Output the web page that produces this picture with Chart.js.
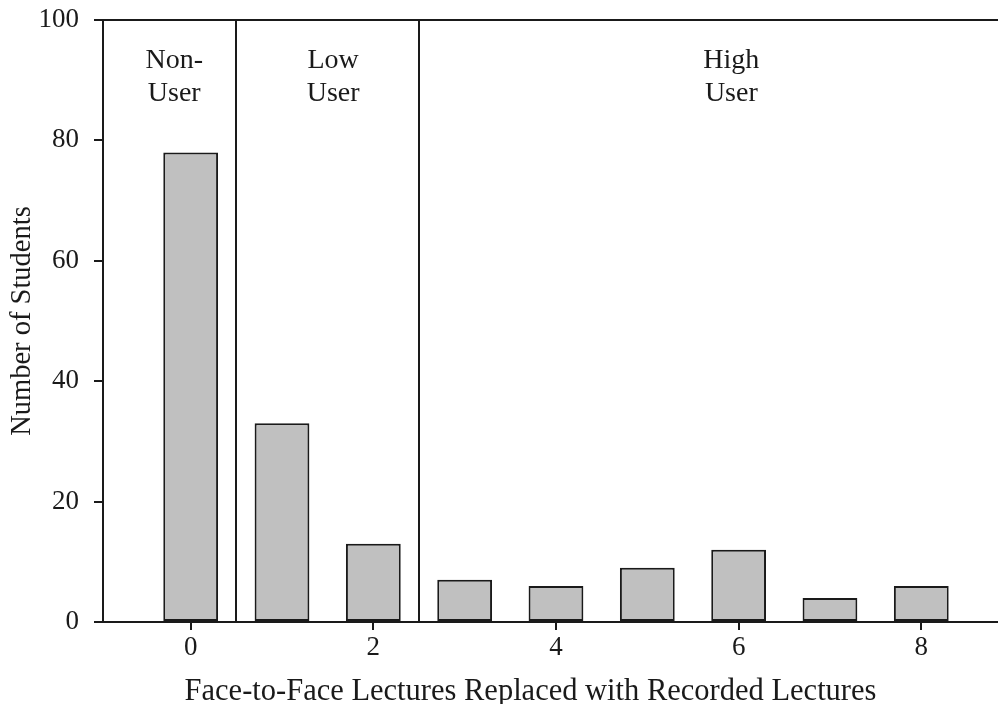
<!DOCTYPE html>
<html>
<head>
<meta charset="utf-8">
<script src="https://cdn.jsdelivr.net/npm/chart.js@4"></script>
<style>
  html, body { margin: 0; padding: 0; background: #fff; overflow: hidden; }
  #wrap { width: 998px; height: 704px; }
</style>
</head>
<body>
<div id="wrap"><canvas id="c" width="998" height="704"></canvas></div>
<script>
// ---- data ----
const lecturesReplaced = [0, 1, 2, 3, 4, 5, 6, 7, 8];
const numberOfStudents = [78, 33, 13, 7, 6, 9, 12, 4, 6];
const xTickValues = [0, 2, 4, 6, 8];
const yTickValues = [0, 20, 40, 60, 80, 100];
const groupNames = [['Non-', 'User'], ['Low', 'User'], ['High', 'User']];
const groupCenters = [-0.18, 1.56, 5.92];
const groupDividers = [0.5, 2.5];
const xTitle = 'Face-to-Face Lectures Replaced with Recorded Lectures';
const yTitle = 'Number of Students';

const X_MIN = -0.96, X_MAX = 8.84;
const FONT = "'Liberation Serif', 'Times New Roman', serif";
const INK = '#1a1a1a';

const overlay = {
  id: 'overlay',
  afterDatasetsDraw(chart) {
    const { ctx, chartArea } = chart;
    const xs = chart.scales.x;
    ctx.save();
    // group dividers
    ctx.strokeStyle = INK;
    ctx.lineWidth = 2;
    groupDividers.forEach(v => {
      const px = Math.round(xs.getPixelForValue(v));
      ctx.beginPath();
      ctx.moveTo(px, chartArea.top);
      ctx.lineTo(px, chartArea.bottom);
      ctx.stroke();
    });
    // group labels
    ctx.fillStyle = INK;
    ctx.font = '28px ' + FONT;
    ctx.textAlign = 'center';
    ctx.textBaseline = 'alphabetic';
    groupNames.forEach((lines, i) => {
      const px = xs.getPixelForValue(groupCenters[i]);
      lines.forEach((t, j) => {
        ctx.fillText(t, px, chartArea.top + 48 + j * 33);
      });
    });
    // x axis title
    ctx.font = '30.5px ' + FONT;
    ctx.fillText(xTitle, (chartArea.left + chartArea.right) / 2 - 20, chart.height - 4);
    ctx.restore();
  }
};

const noPad = s => { s.paddingTop = 0; s.paddingBottom = 0; s.paddingLeft = 0; s.paddingRight = 0; };

new Chart(document.getElementById('c'), {
  type: 'bar',
  data: {
    datasets: [{
      data: lecturesReplaced.map((x, i) => ({ x: x, y: numberOfStudents[i] })),
      backgroundColor: '#c0c0c0',
      borderColor: INK,
      borderWidth: 2,
      borderSkipped: false,
      categoryPercentage: 1.0,
      barPercentage: 0.6
    }]
  },
  options: {
    responsive: false,
    animation: false,
    events: [],
    layout: { padding: 0 },
    plugins: { legend: { display: false }, tooltip: { enabled: false } },
    scales: {
      x: {
        type: 'linear',
        position: 'bottom',
        min: X_MIN,
        max: X_MAX,
        offset: false,
        afterBuildTicks: s => { s.ticks = xTickValues.map(v => ({ value: v })); },
        afterFit: s => { s.height = 82; noPad(s); },
        ticks: {
          color: INK,
          font: { family: FONT, size: 27 },
          padding: 2,
          maxRotation: 0,
          autoSkip: false
        },
        grid: { offset: false, drawOnChartArea: false, drawTicks: true, tickLength: 8, color: INK, lineWidth: 2 },
        border: { display: true, color: INK, width: 2 },
        title: { display: false }
      },
      xTop: {
        type: 'linear',
        position: 'top',
        min: X_MIN,
        max: X_MAX,
        afterFit: s => { s.height = 20; noPad(s); },
        ticks: { display: false },
        grid: { display: false, drawTicks: false, offset: false },
        border: { display: true, color: INK, width: 2 }
      },
      y: {
        min: 0,
        max: 100,
        afterBuildTicks: s => { s.ticks = yTickValues.map(v => ({ value: v })); },
        afterFit: s => { s.width = 103; noPad(s); },
        ticks: {
          color: INK,
          font: { family: FONT, size: 27 },
          padding: 15
        },
        grid: { drawOnChartArea: false, drawTicks: true, tickLength: 9, color: INK, lineWidth: 2 },
        border: { display: true, color: INK, width: 2 },
        title: {
          display: true,
          text: yTitle,
          color: INK,
          font: { family: FONT, size: 28.5, lineHeight: 1.2 },
          padding: { top: 5, bottom: 0 }
        }
      }
    }
  },
  plugins: [overlay]
});
</script>
</body>
</html>
